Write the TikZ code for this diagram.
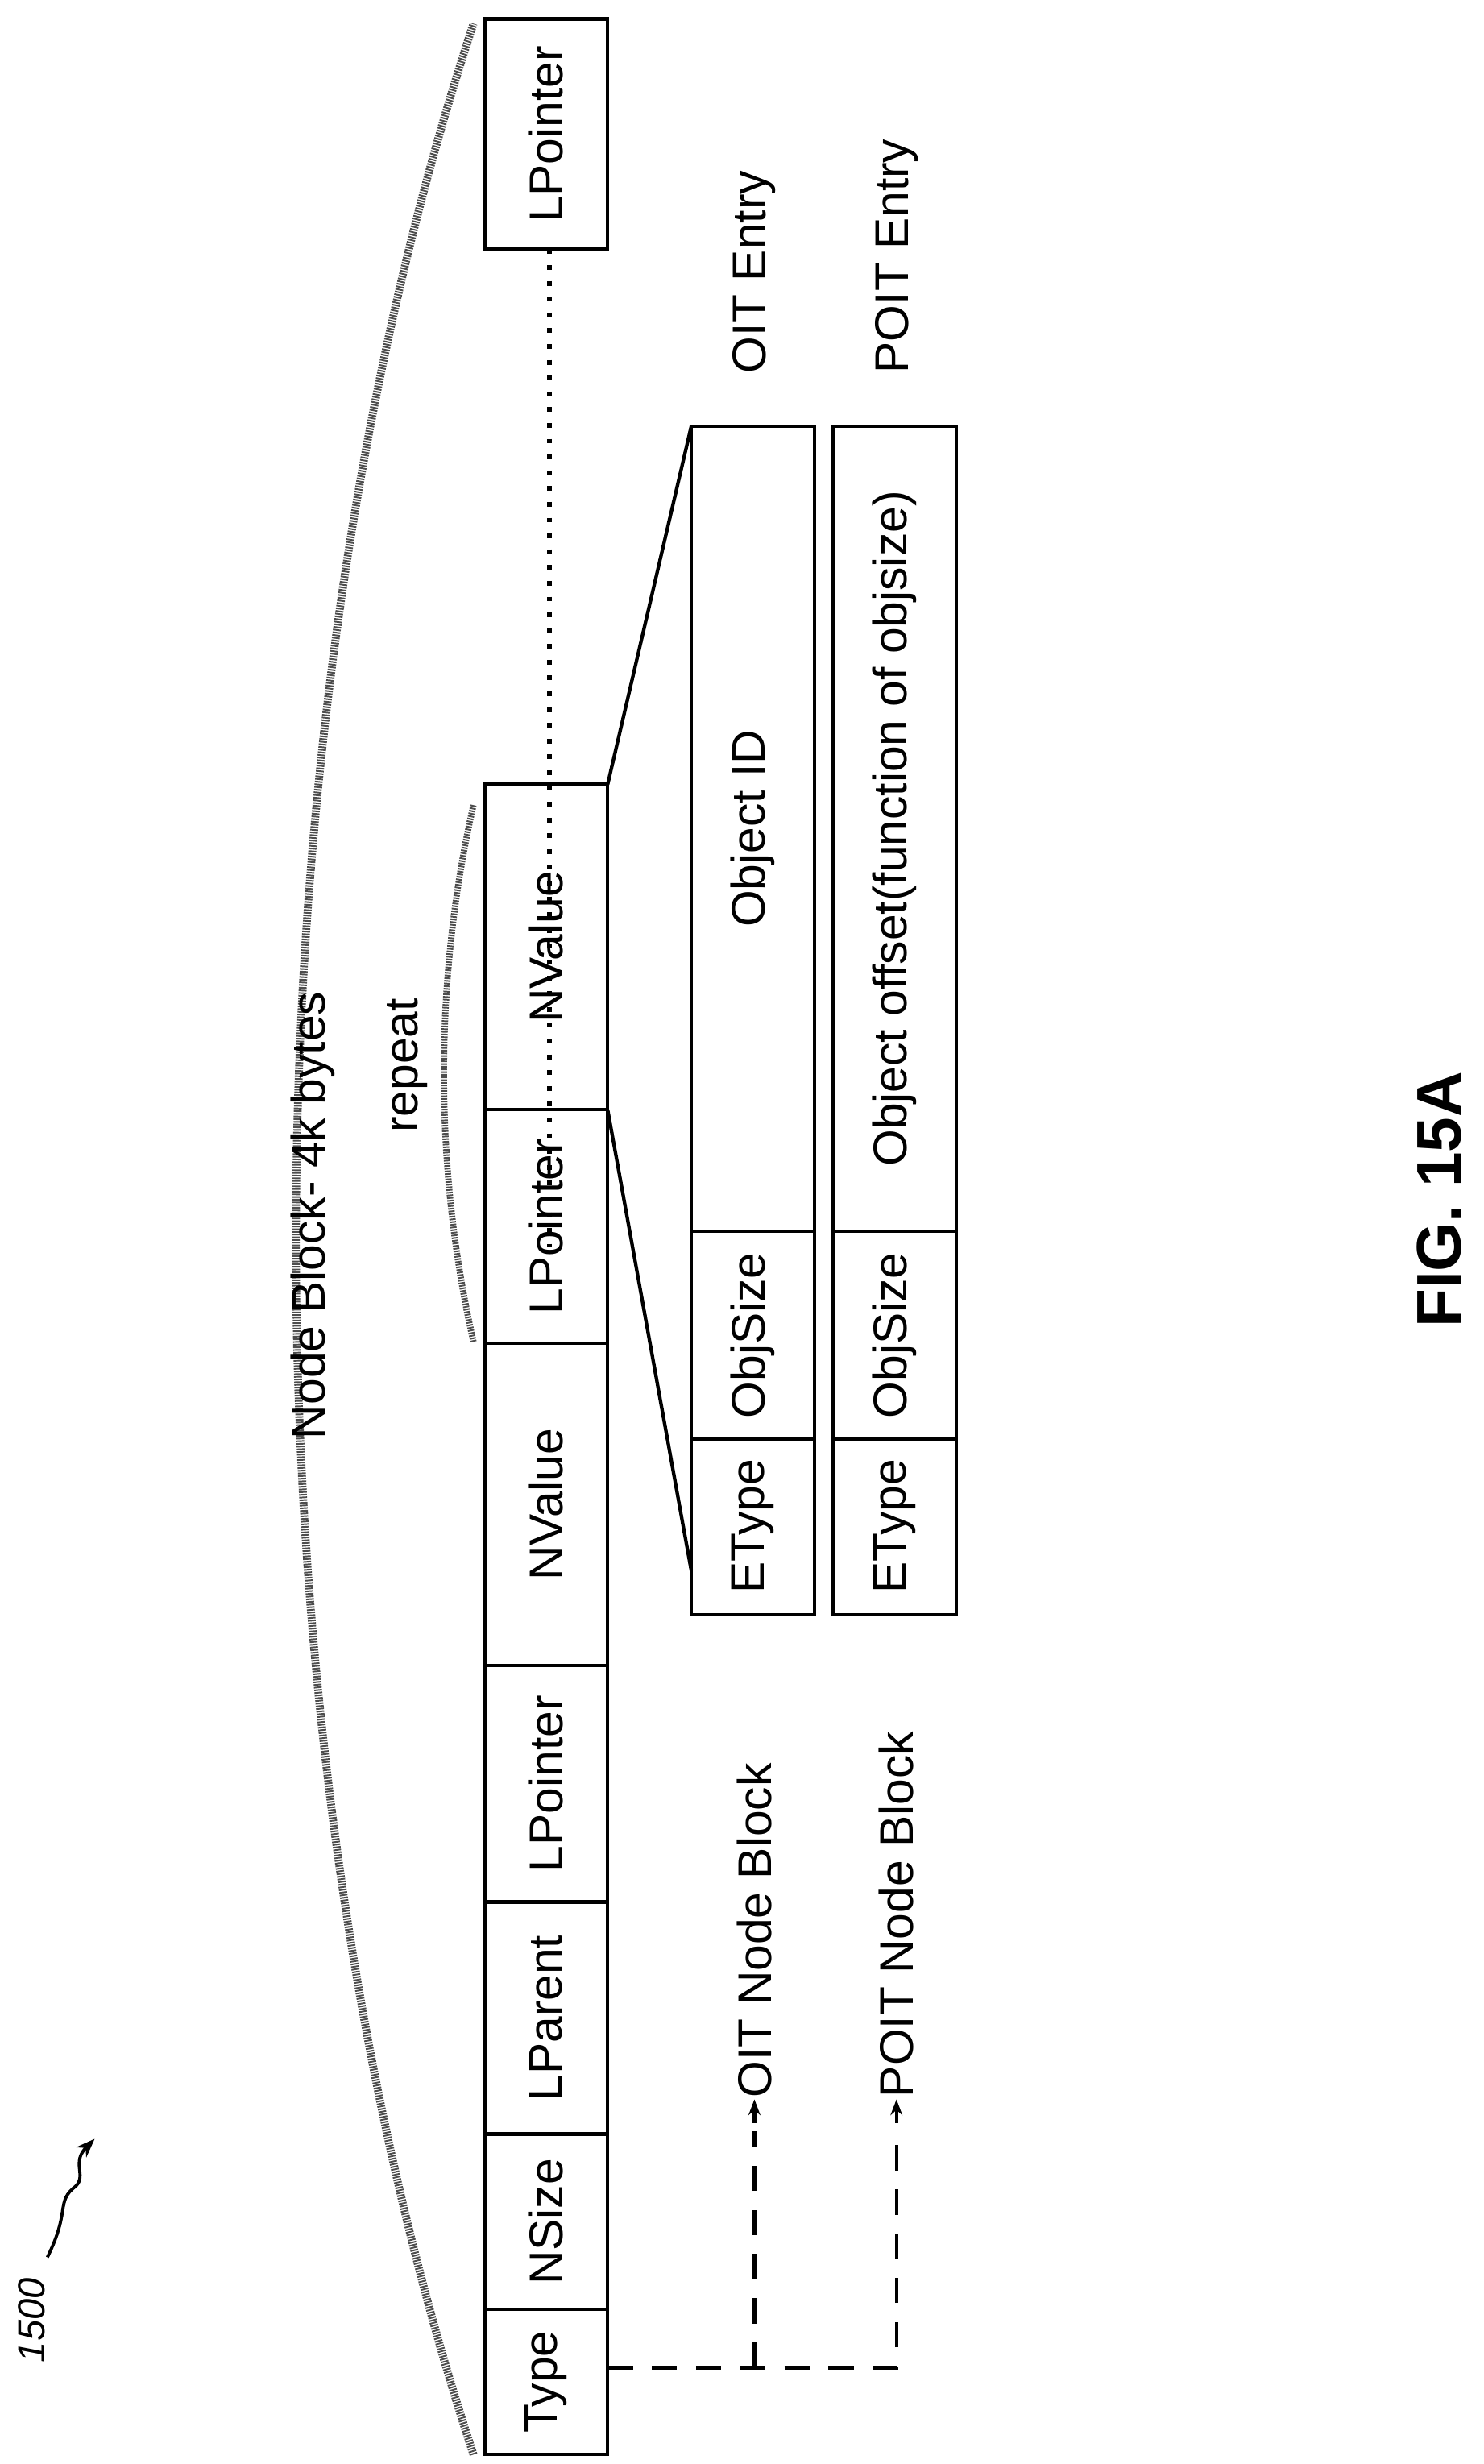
\documentclass[tikz,border=0pt]{standalone}
\usepackage{fontspec}
\setmainfont{Liberation Sans}
\usetikzlibrary{arrows.meta}
\begin{document}
\begin{tikzpicture}[x=1pt,y=-1pt,
 box/.style={draw,line width=2.2pt},
 lab/.style={rotate=90,font=\fontsize{30}{34}\selectfont},
 arc/.style={draw=gray!60!black,line width=5pt,dash pattern=on 1pt off 0.7pt}]
\useasboundingbox (0,0) rectangle (940,1561);
% main row
\foreach \a/\b/\t/\n in {1463/1555/Type/ty,1352/1463/NSize/ns,1205/1352/LParent/lp,1055/1205/LPointer/l1,851/1055/NValue/nv,703/851/LPointer/l2,497/703/NValue/nv2,12/158/LPointer/l3}{
  \draw[box] (307,\a) rectangle (385,\b);
  \node[lab] (\n) at (346,{(\a+\b)/2}) {\t};
}
\coordinate (d1) at (348,158); \coordinate (d2) at (348,790);
\draw[line width=3pt,dash pattern=on 3pt off 7pt] (d1) -- (d2);
% entries
\foreach \x/\p in {438/o,528/p}{
  \draw[box] (\x,912) rectangle (\x+78,1023);
  \draw[box] (\x,780) rectangle (\x+78,912);
  \draw[box] (\x,270) rectangle (\x+78,780);
  \node[lab] (\p e) at (\x+39,967) {EType};
  \node[lab] (\p s) at (\x+39,846) {ObjSize};
}
\node[lab] (oid) at (477,525) {Object ID};
\node[lab] (poff) at (567,525) {Object offset(function of objsize)};
\coordinate (z1) at (385,703); \coordinate (z2) at (438,995);
\coordinate (z3) at (385,497); \coordinate (z4) at (438,270);
\draw[line width=2.2pt] (z1) -- (z2) (z3) -- (z4);
\node[lab,anchor=west] (oit) at (478,240) {OIT Entry};
\node[lab,anchor=west] (poit) at (568,240) {POIT Entry};
% dashed arrows
\coordinate (t0) at (385,1500); \coordinate (t1) at (478,1500); \coordinate (t2) at (568,1500);
\node[lab,anchor=west,inner sep=1pt] (onb) at (478,1330) {OIT Node Block};
\node[lab,anchor=west,inner sep=1pt] (pnb) at (568,1330) {POIT Node Block};
\draw[line width=2.2pt,dash pattern=on 16pt off 12pt] (t0) -- (t2) -- (568,1350);
\draw[line width=2.2pt,dash pattern=on 16pt off 12pt] (t1) -- (478,1350);
\draw[line width=2.2pt,-{Stealth[length=10pt]}] (478,1345) -- (onb.west);
\draw[line width=2.2pt,-{Stealth[length=10pt]}] (568,1345) -- (pnb.west);
% braces
\draw[arc] (300,1555) .. controls (150,1100) and (150,470) .. (300,15);
\node[lab] (nb) at (198,770) {Node Block- 4k bytes};
\draw[arc,line width=4pt] (300,850) .. controls (275,740) and (275,620) .. (300,510);
\node[lab] (rep) at (258,675) {repeat};
% fig label
\node[rotate=90,font=\bfseries\fontsize{40}{44}\selectfont] (fig) at (912,760) {FIG. 15A};
\node[rotate=90,font=\itshape\fontsize{24}{28}\selectfont] (num) at (20,1470) {1500};
\coordinate (s0) at (30,1430);
\draw[line width=2pt,-{Stealth[length=12pt]}] (s0) .. controls (45,1400) and (35,1395) .. (48,1385) .. controls (55,1378) and (45,1370) .. (60,1355);
\end{tikzpicture}
\end{document}
